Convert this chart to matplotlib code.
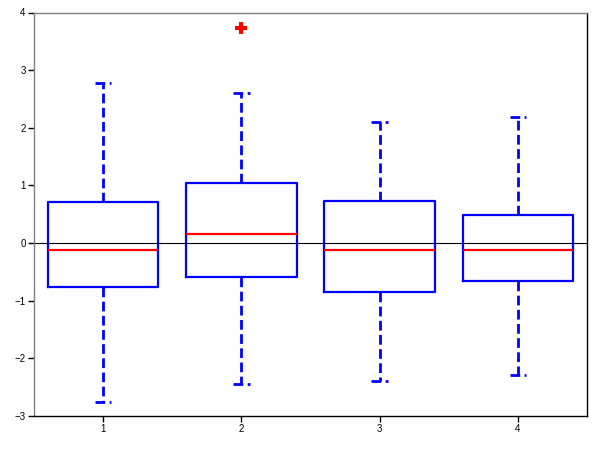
import matplotlib
matplotlib.use("Agg")
import matplotlib.pyplot as plt

positions = [1, 2, 3, 4]
tick_labels = ["1", "2", "3", "4"]
whislo = [-2.76, -2.44, -2.39, -2.29]
q1 = [-0.76, -0.59, -0.85, -0.66]
med = [-0.12, 0.16, -0.12, -0.12]
q3 = [0.71, 1.04, 0.73, 0.49]
whishi = [2.78, 2.60, 2.10, 2.19]
fliers = [[], [3.73], [], []]

stats = []
for i in range(len(positions)):
    stats.append(dict(label=tick_labels[i], whislo=whislo[i], q1=q1[i], med=med[i],
                      q3=q3[i], whishi=whishi[i], fliers=fliers[i]))

plt.rcParams['font.family'] = ['Liberation Sans', 'DejaVu Sans']
fig = plt.figure(figsize=(6, 4.5), dpi=100)
ax = fig.add_axes([34/600, 34/450, (587-34)/600, (416-12.5)/450])

ax.axhline(0, color='black', lw=0.8, zorder=1)
ax.bxp(stats, positions=positions, widths=0.8, showfliers=True,
       boxprops=dict(color='blue', lw=1.6),
       medianprops=dict(color='red', lw=1.6),
       whiskerprops=dict(color='blue', lw=2, linestyle=(0, (3.5, 1.6))),
       capprops=dict(color='blue', lw=2, linestyle=(0, (3.5, 1.6))),
       capwidths=0.12,
       flierprops=dict(marker='+', markeredgecolor='red', markersize=8, markeredgewidth=3),
       zorder=2)

ax.set_xlim(0.5, 4.5)
ax.set_ylim(-3, 4)
ax.set_xticks(positions)
ax.set_xticklabels(tick_labels)
ax.set_yticks([-3, -2, -1, 0, 1, 2, 3, 4])
ax.tick_params(direction='out', length=4, width=1, labelsize=7, pad=2)
ax.spines['left'].set_color('gray')
ax.spines['top'].set_color('gray')
ax.spines['bottom'].set_color('black')
ax.spines['right'].set_color('black')
for s in ax.spines.values():
    s.set_linewidth(1)

fig.savefig("out.png", dpi=100)
